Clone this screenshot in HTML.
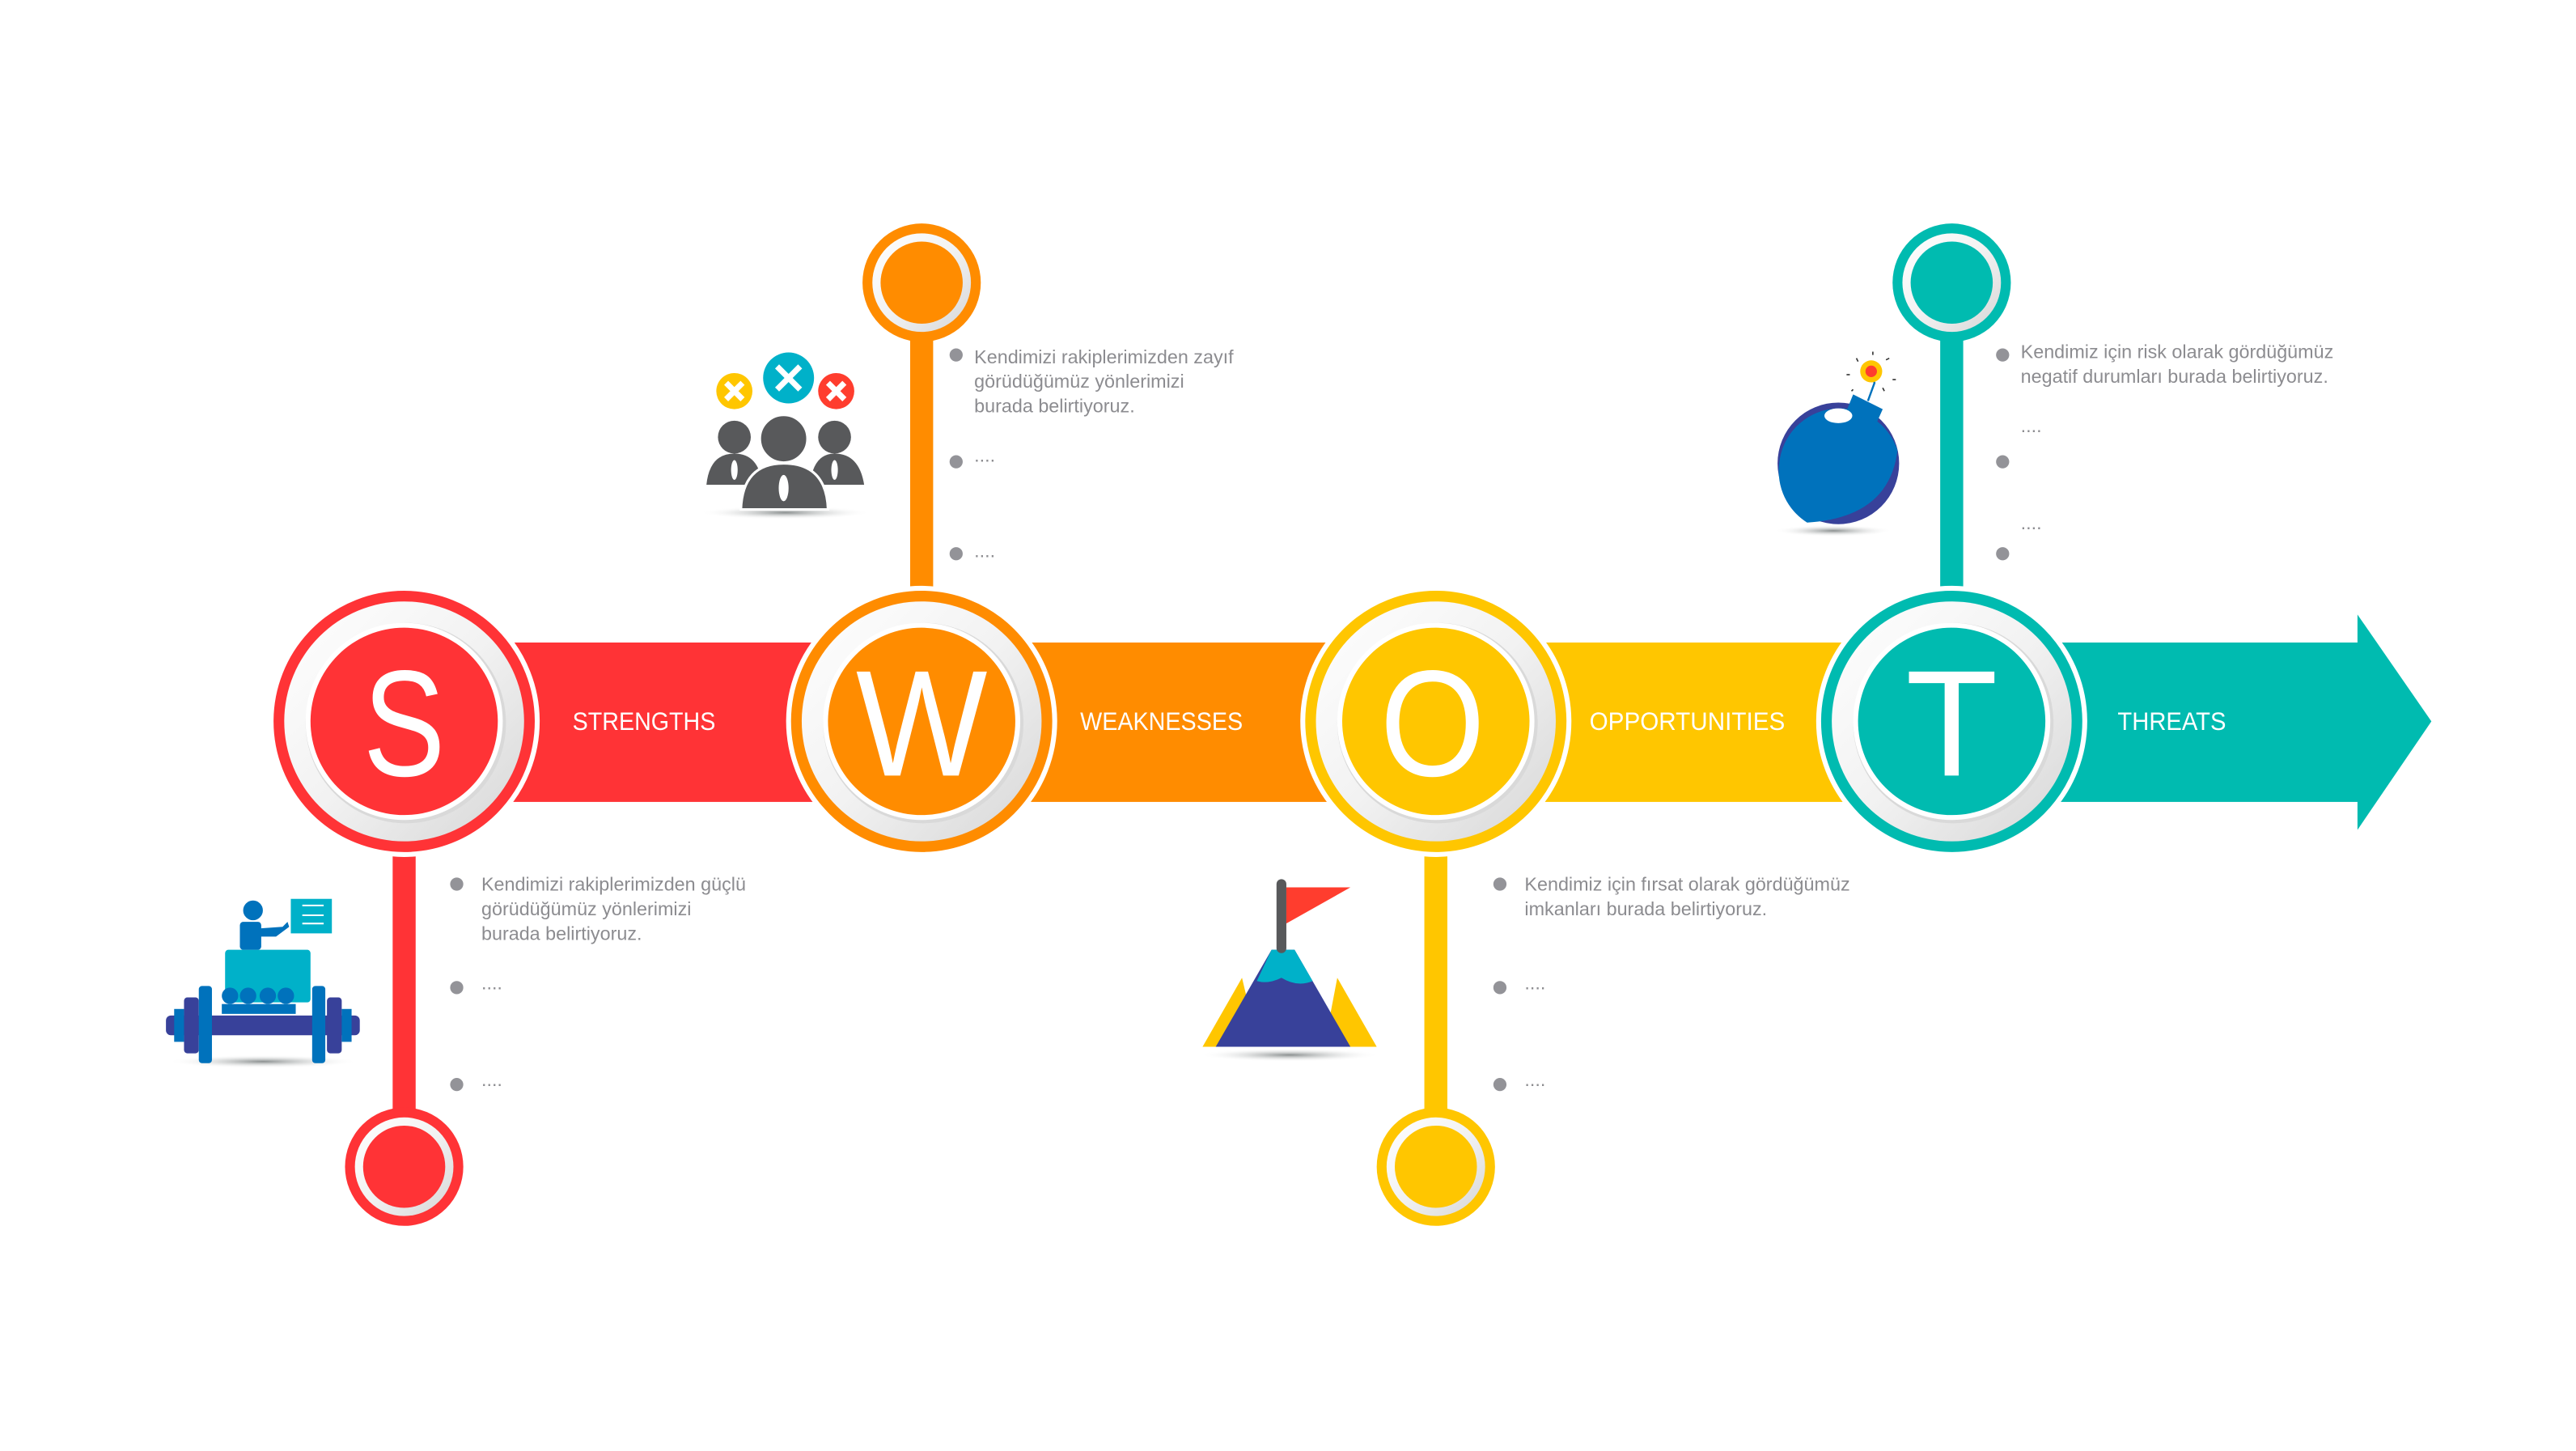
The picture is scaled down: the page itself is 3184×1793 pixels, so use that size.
<!DOCTYPE html>
<html><head><meta charset="utf-8"><style>
html,body{margin:0;padding:0;background:#fff;}
svg{display:block;}
.t{font-family:"Liberation Sans",sans-serif;fill:#8c8c90;font-size:11.5px;}
.lb{font-family:"Liberation Sans",sans-serif;fill:#fff;font-size:15.5px;text-anchor:middle;dominant-baseline:central;}
.big{font-family:"Liberation Sans",sans-serif;fill:#fff;font-size:92px;text-anchor:middle;}
</style></head><body>
<svg width="3184" height="1793" viewBox="0 0 1568 883" xmlns="http://www.w3.org/2000/svg">
<defs>
<linearGradient id="g" x1="0" y1="0" x2="1" y2="1">
<stop offset="0" stop-color="#ffffff"/><stop offset="0.5" stop-color="#f2f2f2"/><stop offset="1" stop-color="#d6d6d6"/>
</linearGradient>
<radialGradient id="sh" cx="0.5" cy="0.5" r="0.5">
<stop offset="0" stop-color="#8a8f8f"/><stop offset="1" stop-color="#ffffff" stop-opacity="0"/>
</radialGradient>
</defs>

<rect x="300" y="391" width="200" height="97" fill="#ff3336"/>
<rect x="615" y="391" width="200" height="97" fill="#ff8c00"/>
<rect x="930" y="391" width="200" height="97" fill="#ffc600"/>
<rect x="1245" y="391" width="191" height="97" fill="#00bbb0"/>
<polygon points="1435,374 1480,439 1435,505" fill="#00bbb0"/>

<rect x="239" y="480" width="14" height="200" fill="#ff3336"/>
<rect x="554" y="200" width="14" height="200" fill="#ff8c00"/>
<rect x="867" y="480" width="14" height="200" fill="#ffc600"/>
<rect x="1181" y="200" width="14" height="200" fill="#00bbb0"/>

<g>
<circle cx="246" cy="439" r="81" fill="#ff3336" stroke="#fff" stroke-width="3"/>
<circle cx="246" cy="439" r="73" fill="url(#g)"/>
<circle cx="247" cy="440" r="61" fill="#d9d9d9"/>
<circle cx="246" cy="439" r="60" fill="#fff"/>
<circle cx="246" cy="439" r="57" fill="#ff3336"/>
<text x="246" y="472" class="big" textLength="50" lengthAdjust="spacingAndGlyphs">S</text>
</g>
<g>
<circle cx="561" cy="439" r="81" fill="#ff8c00" stroke="#fff" stroke-width="3"/>
<circle cx="561" cy="439" r="73" fill="url(#g)"/>
<circle cx="562" cy="440" r="61" fill="#d9d9d9"/>
<circle cx="561" cy="439" r="60" fill="#fff"/>
<circle cx="561" cy="439" r="57" fill="#ff8c00"/>
<text x="561" y="472" class="big" textLength="80" lengthAdjust="spacingAndGlyphs">W</text>
</g>
<g>
<circle cx="874" cy="439" r="81" fill="#ffc600" stroke="#fff" stroke-width="3"/>
<circle cx="874" cy="439" r="73" fill="url(#g)"/>
<circle cx="875" cy="440" r="61" fill="#d9d9d9"/>
<circle cx="874" cy="439" r="60" fill="#fff"/>
<circle cx="874" cy="439" r="57" fill="#ffc600"/>
<text x="872" y="472" class="big" textLength="64" lengthAdjust="spacingAndGlyphs">O</text>
</g>
<g>
<circle cx="1188" cy="439" r="81" fill="#00bbb0" stroke="#fff" stroke-width="3"/>
<circle cx="1188" cy="439" r="73" fill="url(#g)"/>
<circle cx="1189" cy="440" r="61" fill="#d9d9d9"/>
<circle cx="1188" cy="439" r="60" fill="#fff"/>
<circle cx="1188" cy="439" r="57" fill="#00bbb0"/>
<text x="1188" y="472" class="big">T</text>
</g>

<text x="392" y="439" class="lb" textLength="87" lengthAdjust="spacingAndGlyphs">STRENGTHS</text>
<text x="707" y="439" class="lb" textLength="99" lengthAdjust="spacingAndGlyphs">WEAKNESSES</text>
<text x="1027" y="439" class="lb" textLength="119" lengthAdjust="spacingAndGlyphs">OPPORTUNITIES</text>
<text x="1322" y="439" class="lb" textLength="66" lengthAdjust="spacingAndGlyphs">THREATS</text>

<g><circle cx="246" cy="710" r="36" fill="#ff3336"/><circle cx="246" cy="710" r="30" fill="url(#g)"/><circle cx="246" cy="710" r="25" fill="#ff3336"/></g>
<g><circle cx="561" cy="172" r="36" fill="#ff8c00"/><circle cx="561" cy="172" r="30" fill="url(#g)"/><circle cx="561" cy="172" r="25" fill="#ff8c00"/></g>
<g><circle cx="874" cy="710" r="36" fill="#ffc600"/><circle cx="874" cy="710" r="30" fill="url(#g)"/><circle cx="874" cy="710" r="25" fill="#ffc600"/></g>
<g><circle cx="1188" cy="172" r="36" fill="#00bbb0"/><circle cx="1188" cy="172" r="30" fill="url(#g)"/><circle cx="1188" cy="172" r="25" fill="#00bbb0"/></g>

<g fill="#939398">
<circle cx="278" cy="538" r="4"/><circle cx="278" cy="601" r="4"/><circle cx="278" cy="660" r="4"/>
<circle cx="582" cy="216" r="4"/><circle cx="582" cy="281" r="4"/><circle cx="582" cy="337" r="4"/>
<circle cx="913" cy="538" r="4"/><circle cx="913" cy="601" r="4"/><circle cx="913" cy="660" r="4"/>
<circle cx="1219" cy="216" r="4"/><circle cx="1219" cy="281" r="4"/><circle cx="1219" cy="337" r="4"/>
</g>
<text class="t" x="293" y="542">Kendimizi rakiplerimizden güçlü</text>
<text class="t" x="293" y="557">görüdüğümüz yönlerimizi</text>
<text class="t" x="293" y="572">burada belirtiyoruz.</text>
<text class="t" x="293" y="602">....</text>
<text class="t" x="293" y="661">....</text>

<text class="t" x="593" y="221">Kendimizi rakiplerimizden zayıf</text>
<text class="t" x="593" y="236">görüdüğümüz yönlerimizi</text>
<text class="t" x="593" y="251">burada belirtiyoruz.</text>
<text class="t" x="593" y="281">....</text>
<text class="t" x="593" y="339">....</text>

<text class="t" x="928" y="542">Kendimiz için fırsat olarak gördüğümüz</text>
<text class="t" x="928" y="557">imkanları burada belirtiyoruz.</text>
<text class="t" x="928" y="602">....</text>
<text class="t" x="928" y="661">....</text>

<text class="t" x="1230" y="218">Kendimiz için risk olarak gördüğümüz</text>
<text class="t" x="1230" y="233">negatif durumları burada belirtiyoruz.</text>
<text class="t" x="1230" y="263">....</text>
<text class="t" x="1230" y="322">....</text>

<ellipse cx="478" cy="312" rx="52" ry="4" fill="url(#sh)"/>
<g fill="#58595b">
<circle cx="447" cy="266" r="10"/><path d="M430 295 Q432 276 447 276 Q462 276 464 295Z"/>
<circle cx="508" cy="266" r="10"/><path d="M493 295 Q495 276 508 276 Q523 276 526 295Z"/>
<circle cx="477" cy="267" r="14.5" stroke="#fff" stroke-width="1.5"/>
<path d="M451 310 Q452 282 477 282 Q503 282 504 310Z" stroke="#fff" stroke-width="1.5"/>
</g>
<ellipse cx="477" cy="297" rx="3" ry="8" fill="#fff"/>
<ellipse cx="447" cy="286" rx="2" ry="6" fill="#fff"/><ellipse cx="508" cy="286" rx="2" ry="6" fill="#fff"/>
<circle cx="480" cy="230" r="15.5" fill="#00b1c9"/>
<circle cx="447" cy="238" r="11" fill="#ffc600"/>
<circle cx="509" cy="238" r="11" fill="#ff3d2e"/>
<g stroke="#fff" stroke-width="3.5">
<line x1="473" y1="223" x2="487" y2="237"/><line x1="487" y1="223" x2="473" y2="237"/>
<line x1="442" y1="233" x2="452" y2="243"/><line x1="452" y1="233" x2="442" y2="243"/>
<line x1="504" y1="233" x2="514" y2="243"/><line x1="514" y1="233" x2="504" y2="243"/>
</g>

<ellipse cx="160" cy="646" rx="58" ry="4" fill="url(#sh)"/>
<rect x="101" y="618" width="118" height="12" rx="3" fill="#38419a"/>
<rect x="112" y="607" width="9" height="34" rx="2" fill="#38419a"/>
<rect x="199" y="607" width="9" height="34" rx="2" fill="#38419a"/>
<rect x="121" y="600" width="8" height="47" rx="2" fill="#0072bc"/>
<rect x="190" y="600" width="8" height="47" rx="2" fill="#0072bc"/>
<rect x="106" y="614" width="6" height="20" fill="#0072bc"/>
<rect x="208" y="614" width="6" height="20" fill="#0072bc"/>
<rect x="137" y="578" width="52" height="32" rx="2" fill="#00b1c9"/>
<g fill="#0072bc">
<circle cx="140" cy="606" r="5"/><circle cx="151" cy="606" r="5"/><circle cx="163" cy="606" r="5"/><circle cx="174" cy="606" r="5"/>
<rect x="135" y="611" width="45" height="6"/>
<circle cx="154" cy="554" r="6"/>
<rect x="146" y="561" width="13" height="17" rx="2"/>
<path d="M158 565 L172 564 L175 561 L176 564 L168 570 L158 570Z"/>
</g>
<rect x="177" y="547" width="25" height="21" fill="#00b1c9"/>
<g stroke="#fff" stroke-width="1"><line x1="184" y1="551" x2="197" y2="551"/><line x1="184" y1="557" x2="197" y2="557"/><line x1="184" y1="562" x2="197" y2="562"/></g>

<ellipse cx="785" cy="642" rx="55" ry="4" fill="url(#sh)"/>
<polygon points="732,637 756,595 766,637" fill="#ffc600"/>
<polygon points="806,637 814,595 838,637" fill="#ffc600"/>
<polygon points="740,637 774,578 788,578 822,637" fill="#38419a"/>
<path d="M774 578 L788 578 L799 597 Q790 601 780 595 Q772 599 765 597Z" fill="#00b1c9"/>
<rect x="777" y="535" width="6" height="45" rx="3" fill="#58595b"/>
<polygon points="783,540 822,540 783,562" fill="#ff3d2e"/>

<ellipse cx="1116" cy="323" rx="36" ry="3.5" fill="url(#sh)"/>
<circle cx="1119" cy="282" r="37" fill="#38419a"/>
<path d="M1083 282 A37 37 0 0 1 1155 274 Q1150 315 1100 318 A37 37 0 0 1 1083 282Z" fill="#0072bc"/>
<polygon points="1128,240 1146,249 1142,258 1124,250" fill="#0072bc"/>
<path d="M1137 244 L1141 233 L1139 227" stroke="#0072bc" stroke-width="1.2" fill="none"/>
<ellipse cx="1119" cy="253" rx="8.5" ry="4.5" fill="#fff"/>
<circle cx="1139" cy="226" r="6.7" fill="#ffc600"/>
<circle cx="1139" cy="226" r="3.5" fill="#ff3d2e"/>
<g stroke="#333" stroke-width="0.8">
<line x1="1140" y1="214" x2="1140" y2="216"/><line x1="1130" y1="218" x2="1131" y2="220"/><line x1="1148" y1="219" x2="1150" y2="218"/>
<line x1="1124" y1="228" x2="1126" y2="228"/><line x1="1152" y1="231" x2="1154" y2="231"/><line x1="1127" y1="238" x2="1128" y2="237"/><line x1="1146" y1="236" x2="1147" y2="238"/>
</g>
</svg>
</body></html>
